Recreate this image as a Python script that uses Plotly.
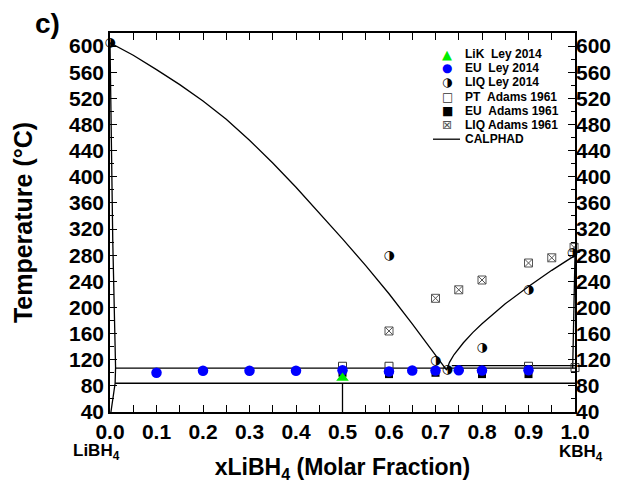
import plotly.graph_objects as go

# ---------------- data ----------------
# CALPHAD curves
liq_left_x = [0.0, 0.05, 0.10, 0.15, 0.20, 0.25, 0.30, 0.35, 0.40, 0.45, 0.50, 0.55, 0.60, 0.65, 0.70, 0.724]
liq_left_t = [605, 586, 564, 541, 516, 488, 456, 421, 384, 345, 305, 264, 221, 175, 127.5, 104]
liq_right_x = [0.724, 0.727, 0.73, 0.74, 0.76, 0.78, 0.80, 0.85, 0.90, 0.95, 1.0]
liq_right_t = [104, 111.4, 116, 128, 146, 161.5, 175, 205.5, 232, 256.8, 279.7]
sol_left_x = [0.0, 0.006, 0.012, 0.011, 0.002]
sol_left_t = [605, 300, 108, 84, 40]
sol_right_x = [0.995, 0.998, 1.0]
sol_right_t = [107, 200, 280]
eut_x = [0.012, 1.0]
eut_t = [107, 107]
eut2_x = [0.735, 1.0]
eut2_t = [111, 111]
trans_x = [0.011, 1.0]
trans_t = [84, 84]
vert_x = [0.5, 0.5]
vert_t = [84, 40]

# experimental points
lik_ley_x = [0.5]
lik_ley_t = [92]
eu_ley_x = [0.1, 0.2, 0.3, 0.4, 0.5, 0.6, 0.65, 0.7, 0.75, 0.8, 0.9]
eu_ley_t = [100, 103, 103, 103, 104, 102, 103.5, 103.5, 104, 103.5, 104]
liq_ley_x = [0.0, 0.6, 0.7, 0.725, 0.8, 0.9, 0.994]
liq_ley_t = [605, 279, 118, 104, 138, 227, 284]
pt_adams_x = [0.5, 0.6, 0.9, 1.0]
pt_adams_t = [110, 110, 110, 108]
eu_adams_x = [0.5, 0.6, 0.7, 0.8, 0.9]
eu_adams_t = [100, 98, 100, 98, 98]
liq_adams_x = [0.6, 0.7, 0.75, 0.8, 0.9, 0.95, 0.998]
liq_adams_t = [164, 214, 227, 242, 268, 276, 292]

x_ticks = [0.0, 0.1, 0.2, 0.3, 0.4, 0.5, 0.6, 0.7, 0.8, 0.9, 1.0]
y_ticks = list(range(40, 601, 40))

legend_labels = ["LiK\u00a0\u00a0Ley 2014", "EU\u00a0\u00a0Ley 2014", "LIQ Ley 2014",
                 "PT\u00a0\u00a0Adams 1961", "EU\u00a0\u00a0Adams 1961",
                 "LIQ Adams 1961", "CALPHAD"]
legend_symbols = ["\u25B2", "\u25CF", "\u25D1", "\u25A1", "\u25A0", "\u22A0", ""]
legend_colors = ["#00ee00", "#0000ff", "black", "#333333", "black", "#555555", "black"]
legend_sym_sizes = [13, 12, 12, 12, 12, 12, 0]

# ---------------- figure ----------------
FONT = "Liberation Sans, Arial, sans-serif"
fig = go.Figure()

line_style = dict(color="black", width=1.3)
for xs, ts in [(liq_left_x, liq_left_t), (liq_right_x, liq_right_t),
               (sol_left_x, sol_left_t), (sol_right_x, sol_right_t),
               (eut_x, eut_t), (eut2_x, eut2_t), (trans_x, trans_t), (vert_x, vert_t)]:
    fig.add_trace(go.Scatter(x=xs, y=ts, mode="lines", line=line_style,
                             showlegend=False, hoverinfo="skip", cliponaxis=False,
                             name="CALPHAD"))

fig.add_trace(go.Scatter(x=pt_adams_x, y=pt_adams_t, mode="markers", name="PT Adams 1961",
                         marker=dict(symbol="square-open", size=8, color="#333333",
                                     line=dict(width=1)),
                         cliponaxis=False, showlegend=False))
fig.add_trace(go.Scatter(x=eu_adams_x, y=eu_adams_t, mode="markers", name="EU Adams 1961",
                         marker=dict(symbol="square", size=8, color="black"),
                         cliponaxis=False, showlegend=False))
fig.add_trace(go.Scatter(x=liq_adams_x, y=liq_adams_t, mode="markers", name="LIQ Adams 1961",
                         marker=dict(symbol="square-x-open", size=8, color="#555555",
                                     line=dict(width=1)),
                         cliponaxis=False, showlegend=False))
fig.add_trace(go.Scatter(x=eu_ley_x, y=eu_ley_t, mode="markers", name="EU Ley 2014",
                         marker=dict(symbol="circle", size=10.5, color="#0000ff"),
                         cliponaxis=False, showlegend=False))
fig.add_trace(go.Scatter(x=lik_ley_x, y=lik_ley_t, mode="markers", name="LiK Ley 2014",
                         marker=dict(symbol="triangle-up", size=11, color="#00ee00"),
                         cliponaxis=False, showlegend=False))
fig.add_trace(go.Scatter(x=liq_ley_x, y=liq_ley_t, mode="text", name="LIQ Ley 2014",
                         text=["\u25D1"] * len(liq_ley_x), textposition="middle center",
                         textfont=dict(family="DejaVu Sans", size=12.5, color="black"),
                         cliponaxis=False, showlegend=False))

axis_font = dict(family=FONT, size=21, color="black", weight="bold")
common = dict(showline=True, linecolor="black", linewidth=1.6, showgrid=False,
              zeroline=False, ticks="inside", ticklen=7, tickwidth=1.2, tickcolor="black",
              tickfont=axis_font)

# the page body adds an 8px offset, so the figure is 8px smaller than the window
fig.update_layout(
    width=616, height=481,
    margin=dict(l=102, r=49, t=25, b=77),
    paper_bgcolor="white", plot_bgcolor="white",
    showlegend=False,
    xaxis=dict(range=[0, 1], tickvals=x_ticks, tickformat=".1f", mirror="allticks",
               minor=dict(ticks="inside", ticklen=4, tickwidth=1.2, tickcolor="black", dtick=0.05),
               title=dict(text="xLiBH<sub>4</sub> (Molar Fraction)", standoff=17,
                          font=dict(family=FONT, size=23, color="black", weight="bold")),
               **common),
    yaxis=dict(range=[40, 620], tickvals=y_ticks, mirror="allticks",
               minor=dict(ticks="inside", ticklen=4, tickwidth=1.2, tickcolor="black", dtick=20, tick0=40),
               title=dict(text="Temperature (°C)", standoff=29,
                          font=dict(family=FONT, size=25, color="black", weight="bold")),
               **common),
    yaxis2=dict(range=[40, 620], tickvals=y_ticks, overlaying="y", side="right",
                anchor="x", showline=False, showgrid=False, zeroline=False, ticks="",
                tickfont=axis_font),
)

# dummy trace to make yaxis2 exist
fig.add_trace(go.Scatter(x=[None], y=[None], yaxis="y2", showlegend=False, hoverinfo="skip"))

annotations = [
    dict(text="c)", x=-0.135, y=1.026, xref="paper", yref="paper", showarrow=False,
         xanchor="center", yanchor="middle", font=dict(family=FONT, size=28, color="black", weight="bold")),
    dict(text="LiBH<sub>4</sub>", x=-0.03, y=-0.105, xref="paper", yref="paper", showarrow=False,
         xanchor="center", yanchor="middle", font=dict(family=FONT, size=17, color="black", weight="bold")),
    dict(text="KBH<sub>4</sub>", x=1.013, y=-0.108, xref="paper", yref="paper", showarrow=False,
         xanchor="center", yanchor="middle", font=dict(family=FONT, size=17, color="black", weight="bold")),
]

# manual legend (top right, inside the plot)
row0 = (412 - 54) / 379
step = 14.2 / 379
sym_x = (447 - 110) / 465
lab_x = (463 - 110) / 465
for i, (lab, sym, col, ss) in enumerate(zip(legend_labels, legend_symbols, legend_colors, legend_sym_sizes)):
    yy = row0 - i * step
    annotations.append(dict(text=lab, x=lab_x, y=yy, xref="paper", yref="paper", showarrow=False,
                            xanchor="left", yanchor="middle",
                            font=dict(family=FONT, size=12, color="black", weight="bold")))
    if sym:
        annotations.append(dict(text=sym, x=sym_x, y=yy, xref="paper", yref="paper", showarrow=False,
                                xanchor="center", yanchor="middle",
                                font=dict(family="DejaVu Sans", size=ss, color=col)))
    else:
        fig.add_shape(type="line", xref="paper", yref="paper",
                      x0=(433 - 110) / 465, x1=(460 - 110) / 465, y0=yy, y1=yy,
                      line=dict(color="black", width=1.3))

fig.update_layout(annotations=annotations)
fig.write_html("out.html")
